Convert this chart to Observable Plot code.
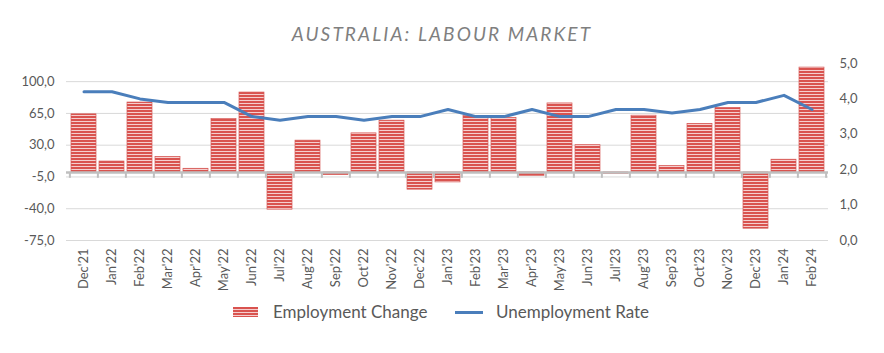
<!DOCTYPE html>
<html><head><meta charset="utf-8">
<script src="https://cdn.jsdelivr.net/npm/d3@7"></script>
<script src="https://cdn.jsdelivr.net/npm/@observablehq/plot@0.6"></script>
<style>
body{margin:0;background:#fff;}
#wrap{position:relative;width:884px;height:353px;font-family:Lato, "Open Sans", sans-serif;color:#595959;}
#title{position:absolute;left:0;width:884px;top:24px;text-align:center;font-style:italic;font-size:19px;letter-spacing:2.1px;color:#7f7f7f;line-height:20px;white-space:nowrap;}
#chart{position:absolute;left:0;top:50px;}
.lg{position:absolute;font-size:17px;line-height:20px;top:302px;white-space:nowrap;}
#sw1{position:absolute;left:233px;top:307px;width:25px;height:10px;background:repeating-linear-gradient(180deg,#d9534f 0px,#d9534f 2px,#f5cfcf 2px,#f5cfcf 3px);}
#sw2{position:absolute;left:455px;top:310.5px;width:28px;height:3px;background:#4a7ebb;}
</style></head>
<body>
<div id="wrap">
  <div id="title">AUSTRALIA: LABOUR MARKET</div>
  <div id="chart"></div>
  <div id="sw1"></div><div class="lg" style="left:273px">Employment Change</div>
  <div id="sw2"></div><div class="lg" style="left:496px">Unemployment Rate</div>
</div>
<script>
const months = ["Dec'21","Jan'22","Feb'22","Mar'22","Apr'22","May'22","Jun'22","Jul'22","Aug'22","Sep'22","Oct'22","Nov'22","Dec'22","Jan'23","Feb'23","Mar'23","Apr'23","May'23","Jun'23","Jul'23","Aug'23","Sep'23","Oct'23","Nov'23","Dec'23","Jan'24","Feb'24"];
const employmentChange = [64,12,77,17,4,59,88,-41,35,-3,43,57,-19,-11,62,60,-4,76,30,-1.5,62.5,7,53.5,71,-62,14,115.5];
const unemploymentRate = [4.2,4.2,4.0,3.9,3.9,3.9,3.5,3.4,3.5,3.5,3.4,3.5,3.5,3.7,3.5,3.5,3.7,3.5,3.5,3.7,3.7,3.6,3.7,3.9,3.9,4.1,3.7];
const leftTicks = [-75,-40,-5,30,65,100];
const rightTicks = [0,1,2,3,4,5];

const leftMin = -75, leftMax = 120, rightMax = 5;
const toLeft = r => leftMin + r * (leftMax - leftMin) / rightMax;
const fmt = d => d.toFixed(1).replace(".", ",");

const data = months.map((m, i) => ({month: m, emp: employmentChange[i], rate: unemploymentRate[i]}));

const W = 884, ML = 66, MR = 56;
const step = (W - ML - MR) / months.length;

const svg = Plot.plot({
  width: W, height: 245,
  marginLeft: ML, marginRight: MR, marginTop: 13, marginBottom: 55,
  style: {fontFamily: "Lato, 'Open Sans', sans-serif", fontSize: "13px", color: "#595959", background: "transparent"},
  x: {type: "band", domain: months, paddingInner: 0.11, paddingOuter: 0.055},
  y: {domain: [leftMin, leftMax]},
  marks: [
    Plot.gridY(leftTicks, {stroke: "#d9d9d9", strokeOpacity: 1, strokeWidth: 1}),
    Plot.barY(data, {x: "month", y: "emp", fill: "url(#stripes)", stroke: "#d65a57", strokeWidth: 0.7}),
    Plot.ruleY([0], {stroke: "#bfbfbf", strokeWidth: 2.5}),
    Plot.ruleX(months, {x: d => d, dx: -step / 2, y1: 0, y2: -6.5, stroke: "#bfbfbf", strokeWidth: 2}),
    Plot.ruleX([months[months.length - 1]], {x: d => d, dx: step / 2, y1: 0, y2: -6.5, stroke: "#bfbfbf", strokeWidth: 2}),
    Plot.line(data, {x: "month", y: d => toLeft(d.rate), stroke: "#4a7ebb", strokeWidth: 3, curve: "linear"}),
    Plot.axisY({anchor: "left", ticks: leftTicks, tickFormat: fmt, tickSize: 0, tickPadding: 12, label: null}),
    Plot.axisY({anchor: "right", ticks: rightTicks.map(toLeft), tickFormat: v => fmt((v - leftMin) * rightMax / (leftMax - leftMin)), tickSize: 0, tickPadding: 11, label: null}),
    Plot.axisX({anchor: "bottom", tickRotate: -90, tickSize: 0, tickPadding: 8, label: null})
  ]
});

const defs = d3.select(svg).insert("defs", ":first-child");
const pat = defs.append("pattern").attr("id", "stripes").attr("patternUnits", "userSpaceOnUse").attr("width", 6).attr("height", 3);
pat.append("rect").attr("width", 6).attr("height", 3).attr("fill", "#f5cfcf");
pat.append("rect").attr("width", 6).attr("height", 2).attr("fill", "#d9534f");

document.getElementById("chart").appendChild(svg);
</script>
</body></html>
